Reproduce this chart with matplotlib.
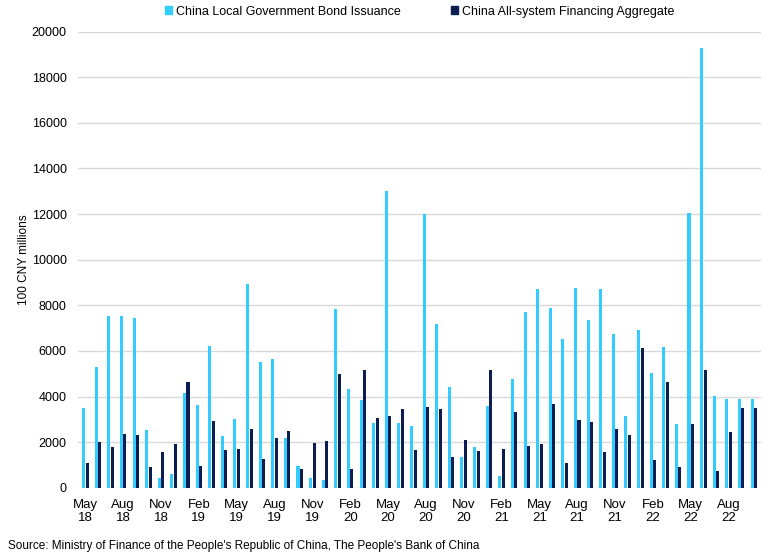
from matplotlib import pyplot as plt
from matplotlib.patches import Patch
import numpy as np

plt.rcParams['font.family'] = ['Liberation Sans', 'DejaVu Sans']

## monthly series, May 2018 - Oct 2022 (100 CNY millions)
months = ['May', 'Jun', 'Jul', 'Aug', 'Sep', 'Oct', 'Nov', 'Dec',
          'Jan', 'Feb', 'Mar', 'Apr', 'May', 'Jun', 'Jul', 'Aug', 'Sep', 'Oct', 'Nov', 'Dec',
          'Jan', 'Feb', 'Mar', 'Apr', 'May', 'Jun', 'Jul', 'Aug', 'Sep', 'Oct', 'Nov', 'Dec',
          'Jan', 'Feb', 'Mar', 'Apr', 'May', 'Jun', 'Jul', 'Aug', 'Sep', 'Oct', 'Nov', 'Dec',
          'Jan', 'Feb', 'Mar', 'Apr', 'May', 'Jun', 'Jul', 'Aug', 'Sep', 'Oct']
years = ['18'] * 8 + ['19'] * 12 + ['20'] * 12 + ['21'] * 12 + ['22'] * 10

bond_issuance = [3520, 5290, 7550, 7550, 7460, 2540, 430, 620,
                 4150, 3630, 6200, 2270, 3000, 8950, 5520, 5670, 2180, 950, 430, 340,
                 7840, 4340, 3850, 2830, 13020, 2830, 2710, 12020, 7180, 4410, 1350, 1800,
                 3590, 540, 4750, 7720, 8720, 7900, 6530, 8780, 7350, 8720, 6750, 3150,
                 6930, 5030, 6170, 2800, 12060, 19300, 4030, 3900, 3900, 3900]
financing_aggregate = [1100, 1990, 1800, 2360, 2300, 910, 1580, 1920,
                       4640, 950, 2930, 1660, 1700, 2580, 1250, 2180, 2480, 840, 1950, 2070,
                       5010, 840, 5170, 3080, 3150, 3440, 1660, 3560, 3440, 1360, 2100, 1610,
                       5170, 1690, 3330, 1850, 1920, 3680, 1070, 2960, 2890, 1580, 2580, 2330,
                       6120, 1200, 4630, 910, 2800, 5170, 730, 2430, 3490, 3490]

light = '#33CCFF'
dark = '#0B1D51'

fig = plt.figure(figsize=(7.7, 5.55), dpi=100)
ax = fig.add_axes([0.101, 0.121, 0.887, 0.822])

x = np.arange(len(months))
w = 0.24
ax.bar(x - 0.14, bond_issuance, width=w, color=light, zorder=3)
ax.bar(x + 0.14, financing_aggregate, width=w, color=dark, zorder=3)

ax.set_xlim(-0.6, len(months) - 0.45)
ax.set_ylim(0, 20000)
ax.set_yticks(np.arange(0, 20001, 2000))
ax.yaxis.grid(True, color='#D9D9D9', linewidth=1, zorder=0)
ax.tick_params(axis='y', length=0, labelsize=9, pad=8)

ticks = x[::3]
ax.set_xticks(ticks)
ax.set_xticklabels([months[i] + '\n' + years[i] for i in ticks], fontsize=9.5,
                   linespacing=1.15)
ax.tick_params(axis='x', length=0, pad=8)

for s in ['top', 'right', 'left', 'bottom']:
    ax.spines[s].set_visible(False)

ax.set_ylabel('100 CNY millions', fontsize=8.5, labelpad=1)

handles = [Patch(color=light, label='China Local Government Bond Issuance'),
           Patch(color=dark, label='China All-system Financing Aggregate')]
fig.legend(handles=handles, loc='upper center', bbox_to_anchor=(0.545, 1.01),
           ncol=2, frameon=False, fontsize=9, handlelength=0.6, handleheight=0.6,
           handletextpad=0.3, columnspacing=4)

fig.text(0.01, 0.01, "Source: Ministry of Finance of the People's Republic of China, "
         "The People's Bank of China", fontsize=8.5)

fig.savefig('out.png', dpi=100)
